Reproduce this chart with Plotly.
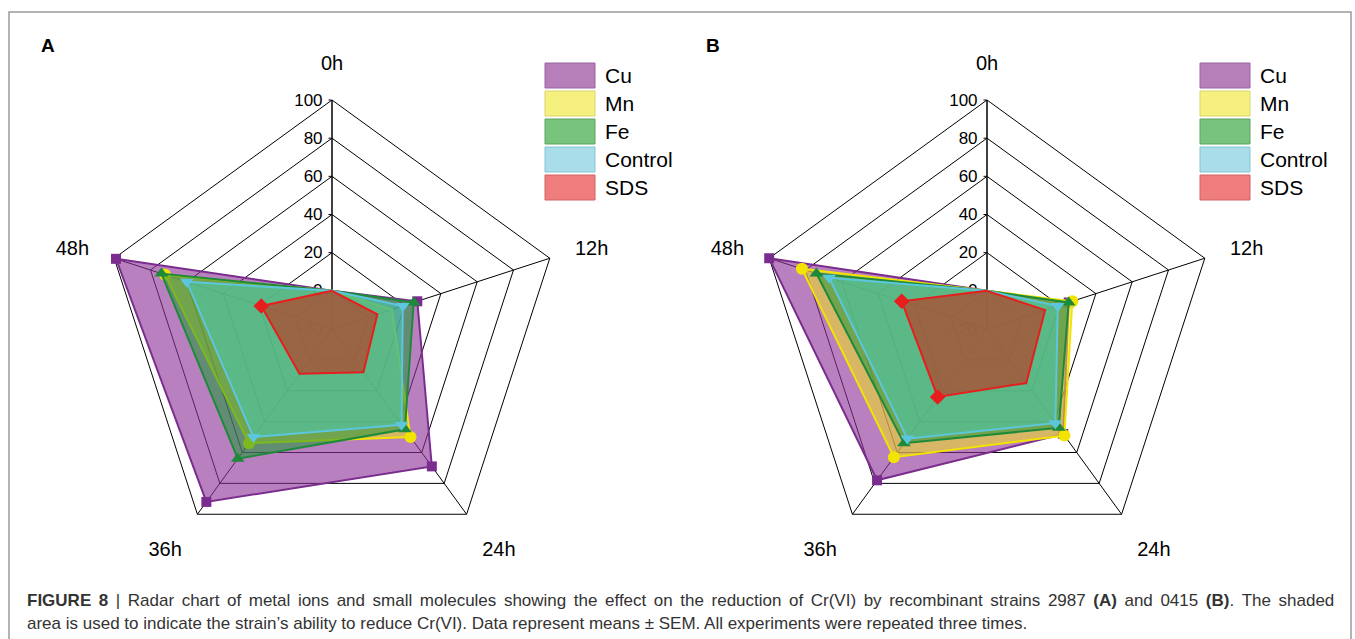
import plotly.graph_objects as go

W, H = 1355, 639

# Sampling times (angular categories)
times = ["0h", "12h", "24h", "36h", "48h"]

# Cr(VI) reduction (%) for recombinant strain 2987 (panel A)
cu_a = [0, 27, 69, 92, 99]
mn_a = [0, 13, 50, 54, 72]
fe_a = [0, 25, 45, 64, 74]
control_a = [0, 19, 42, 50, 60]
sds_a = [0, 5, 8, 9, 19]

# Cr(VI) reduction (%) for recombinant strain 0415 (panel B)
cu_b = [0, 25, 48, 78, 100]
mn_b = [0, 27, 49, 63, 82]
fe_b = [0, 25, 44, 54, 74]
control_b = [0, 19, 41, 51, 67]
sds_b = [0, 12, 15, 24, 27]

series_names = ["Cu", "Mn", "Fe", "Control", "SDS"]
line_colors = ["#7b2d8f", "#f2e400", "#1d8a3a", "#5cc6dc", "#e61e1e"]
fill_colors = ["rgba(140,50,150,0.62)", "rgba(240,228,30,0.55)",
               "rgba(30,150,55,0.55)", "rgba(70,205,190,0.52)",
               "rgba(200,40,20,0.58)"]
swatch_fill = ["#b67fba", "#f6f17f", "#79c47c", "#a9dde9", "#f07d7d"]
swatch_line = ["#9b62a3", "#d9d36a", "#5aa55e", "#86c4d2", "#d06262"]
symbols = ["square", "circle", "triangle-up", "triangle-down", "diamond"]
marker_sizes = [10, 12, 12, 12, 12]

panel_a = [cu_a, mn_a, fe_a, control_a, sds_a]
panel_b = [cu_b, mn_b, fe_b, control_b, sds_b]

FONT = "Liberation Sans, Arial, sans-serif"


def closed(vals):
    return list(vals) + list(vals[:1])


fig = go.Figure()
for subplot, panel in (("polar", panel_a), ("polar2", panel_b)):
    for i, vals in enumerate(panel):
        fig.add_trace(go.Scatterpolar(
            r=closed(vals), theta=closed(times), subplot=subplot,
            mode="lines+markers", fill="toself", fillcolor=fill_colors[i],
            line=dict(color=line_colors[i], width=2),
            marker=dict(symbol=symbols[i], size=marker_sizes[i], color=line_colors[i]),
            name=series_names[i], showlegend=False, hoverinfo="skip"))


def px(x):
    return x / W


def py(y):
    return 1 - y / H


R = 229


def polar_layout(cx, cy):
    return dict(
        domain=dict(x=[px(cx - R), px(cx + R)], y=[py(cy + R), py(cy - R)]),
        gridshape="linear",
        bgcolor="rgba(0,0,0,0)",
        radialaxis=dict(range=[-20, 100], tickvals=[-20, 0, 20, 40, 60, 80, 100],
                        angle=90, side="counterclockwise", tickangle=90,
                        showline=True, linecolor="black", linewidth=1,
                        gridcolor="black", gridwidth=1,
                        ticks="outside", ticklen=3, tickcolor="black",
                        tickfont=dict(family=FONT, size=17, color="black"),
                        layer="below traces"),
        angularaxis=dict(rotation=90, direction="clockwise",
                         categoryorder="array", categoryarray=times,
                         showline=True, linecolor="black", linewidth=1,
                         gridcolor="black", gridwidth=1,
                         ticks="outside", ticklen=22, tickcolor="rgba(0,0,0,0)",
                         tickfont=dict(family=FONT, size=20, color="black"),
                         layer="below traces"),
    )


shapes = []
annotations = []

# Outer frame of the figure
shapes.append(dict(type="rect", xref="paper", yref="paper",
                   x0=px(9), x1=px(1351), y0=-0.1, y1=py(12),
                   line=dict(color="#9a9a9a", width=1.5), fillcolor="rgba(0,0,0,0)"))

# Legends drawn as swatches with labels
for left in (545, 1200):
    for i, name in enumerate(series_names):
        top = 63 + 28 * i
        shapes.append(dict(type="rect", xref="paper", yref="paper",
                           x0=px(left), x1=px(left + 50), y0=py(top + 25), y1=py(top),
                           line=dict(color=swatch_line[i], width=1),
                           fillcolor=swatch_fill[i]))
        annotations.append(dict(xref="paper", yref="paper", x=px(left + 58),
                                y=py(top + 12.5), text=name, showarrow=False,
                                xanchor="left", yanchor="middle",
                                font=dict(family=FONT, size=21, color="black")))

# Panel letters
for x, letter in ((48, "A"), (713, "B")):
    annotations.append(dict(xref="paper", yref="paper", x=px(x), y=py(45),
                            text=f"<b>{letter}</b>", showarrow=False,
                            xanchor="center", yanchor="middle",
                            font=dict(family=FONT, size=19, color="black")))

# Caption (first line widened to a justified measure with hair spaces)
first_line = ("<b>FIGURE 8</b> | Radar chart of metal ions and small molecules showing the effect "
              "on the reduction of Cr(VI) by recombinant strains 2987 <b>(A)</b> and 0415 "
              "<b>(B)</b>. The shaded")
first_line = first_line.replace(" ", " \u200a\u200a")
caption_lines = [
    first_line,
    "area is used to indicate the strain’s ability to reduce Cr(VI). Data represent means ± SEM. "
    "All experiments were repeated three times.",
]
for k, line in enumerate(caption_lines):
    annotations.append(dict(xref="paper", yref="paper", x=px(25), y=py(600 + 23 * k),
                            text=line, showarrow=False, xanchor="left", yanchor="middle",
                            font=dict(family=FONT, size=17, color="#333333")))

fig.update_layout(
    width=W, height=H,
    margin=dict(l=0, r=0, t=0, b=0),
    paper_bgcolor="white",
    plot_bgcolor="white",
    polar=polar_layout(332, 329),
    polar2=polar_layout(987, 329),
    shapes=shapes,
    annotations=annotations,
    showlegend=False,
)

fig.write_html("out.html")
